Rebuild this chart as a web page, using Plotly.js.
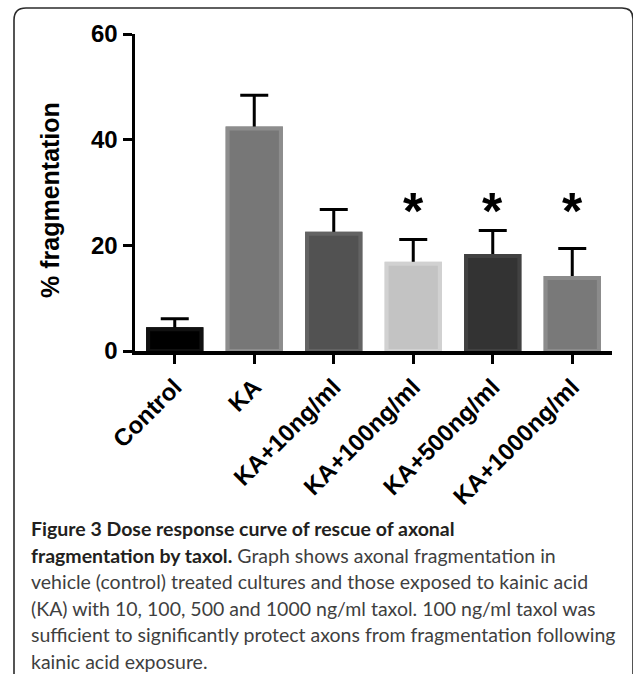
<!DOCTYPE html>
<html>
<head>
<meta charset="utf-8">
<script src="https://cdn.plot.ly/plotly-3.0.1.min.js"></script>
<style>
html,body{margin:0;padding:0;background:#fff;}
#chart{width:633px;height:674px;}
</style>
</head>
<body>
<div id="chart"></div>
<script>
// ---- data ----
const categories = ["Control", "KA", "KA+10ng/ml", "KA+100ng/ml", "KA+500ng/ml", "KA+1000ng/ml"];
const meanValues = [4.1, 42.1, 22.2, 16.5, 18.0, 13.8];
const semValues  = [2.0, 6.3, 4.6, 4.6, 4.8, 5.6];
const significance = ["", "", "", "*", "*", "*"];
const sigLevel = 28;
const yTickVals = [0, 20, 40, 60];
const yTitle = "% fragmentation";
const captionLines = [
  "<b>Figure 3 Dose response curve of rescue of axonal</b>",
  "<b>fragmentation by taxol.</b> <span style=\"color:#3f3f3f\">Graph shows axonal fragmentation in</span>",
  "vehicle (control) treated cultures and those exposed to kainic acid",
  "(KA) with 10, 100, 500 and 1000 ng/ml taxol. 100 ng/ml taxol was",
  "sufficient to significantly protect axons from fragmentation following",
  "kainic acid exposure."
];

// ---- styles ----
const fillColors = ["#000000", "#777777", "#525252", "#c3c3c3", "#333333", "#797979"];
const edgeColors = ["#111111", "#8d8d8d", "#636363", "#d1d1d1", "#414141", "#8b8b8b"];

const W = 633, H = 674;
const M = {l: 135, r: 21, t: 34, b: 323};
const px2x = p => (p - M.l) / (W - M.l - M.r);
const px2y = p => ((H - M.b) - p) / (H - M.b - M.t);

const zeros = meanValues.map(() => 0);

const barBase = {
  type: "bar",
  x: categories,
  y: meanValues,
  hoverinfo: "skip",
  showlegend: false,
  marker: {color: fillColors, line: {color: edgeColors, width: 4}}
};

const traces = [
  Object.assign({}, barBase, {
    error_y: {type: "data", symmetric: false, array: semValues, arrayminus: zeros,
              visible: true, color: "#000", thickness: 3, width: 14}
  }),
  Object.assign({}, barBase)
];

const annotations = [];
significance.forEach((s, i) => {
  if (s) annotations.push({
    x: categories[i], y: sigLevel, xref: "x", yref: "y", text: s, showarrow: false,
    yanchor: "middle", yshift: -8,
    font: {family: "Liberation Sans, Arial, sans-serif", size: 52, color: "#000", weight: 700}
  });
});

annotations.push({
  xref: "paper", yref: "paper", x: px2x(50), y: px2y(200), text: yTitle, textangle: -90,
  showarrow: false, xanchor: "center", yanchor: "middle",
  font: {family: "Liberation Sans, Arial, sans-serif", size: 25, color: "#000", weight: 700}
});

const capY = [528, 555, 581, 608, 634, 661];
captionLines.forEach((t, i) => {
  annotations.push({
    xref: "paper", yref: "paper", x: px2x(29), y: px2y(capY[i]), text: t,
    showarrow: false, xanchor: "left", yanchor: "middle", align: "left",
    font: {family: "Lato, 'Open Sans', sans-serif", size: 19.5, color: i < 2 ? "#231f20" : "#3f3f3f"}
  });
});

const shapes = [{
  type: "path", xref: "paper", yref: "paper",
  path: "M " + px2x(14) + "," + px2y(690) +
        " L " + px2x(14) + "," + px2y(20) +
        " Q " + px2x(14) + "," + px2y(8) + " " + px2x(26) + "," + px2y(8) +
        " L " + px2x(622) + "," + px2y(8) +
        " Q " + px2x(633) + "," + px2y(8) + " " + px2x(633) + "," + px2y(19) +
        " L " + px2x(633) + "," + px2y(690),
  line: {color: "#2b2b2b", width: 1.6}
}];

const layout = {
  width: W, height: H,
  margin: M,
  paper_bgcolor: "#fff", plot_bgcolor: "#fff",
  barmode: "overlay",
  bargap: 0.33,
  showlegend: false,
  xaxis: {
    type: "category", range: [-0.5, 5.5],
    showline: true, linecolor: "#000", linewidth: 3.5,
    ticks: "outside", ticklen: 9, tickwidth: 3, tickcolor: "#000",
    tickangle: -45, showgrid: false, zeroline: false,
    tickfont: {family: "Liberation Sans, Arial, sans-serif", size: 24, color: "#000", weight: 700}
  },
  yaxis: {
    range: [0, 60], tickvals: yTickVals, ticktext: yTickVals.map(String),
    showline: true, linecolor: "#000", linewidth: 3.5,
    ticks: "outside", ticklen: 9, tickwidth: 3, tickcolor: "#000",
    showgrid: false, zeroline: false,
    tickfont: {family: "Liberation Sans, Arial, sans-serif", size: 24, color: "#000", weight: 700}
  },
  annotations: annotations,
  shapes: shapes
};

Plotly.newPlot("chart", traces, layout, {staticPlot: true, displayModeBar: false});
</script>
</body>
</html>
